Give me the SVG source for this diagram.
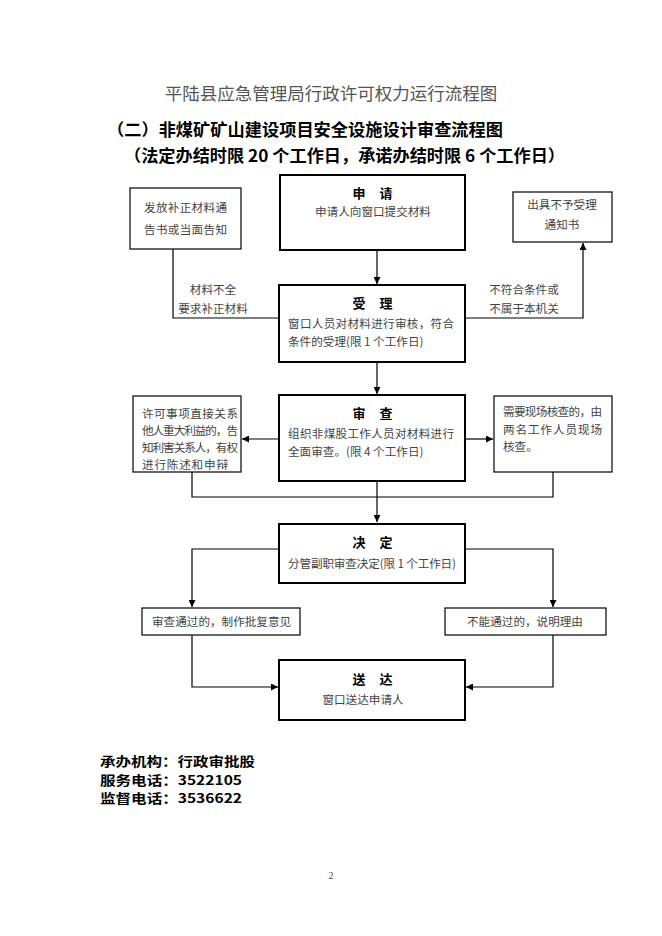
<svg xmlns="http://www.w3.org/2000/svg" width="662" height="936" viewBox="0 0 662 936">
<style>
text{font-family:"Noto Sans CJK SC","Liberation Serif",serif;}
.t1{font-size:17.5px;fill:#555;}
.t2{font-size:16.5px;font-weight:bold;fill:#000;}
.hd{font-size:13px;font-weight:bold;fill:#000;}
.bx{font-size:11.6px;fill:#444;}
.ft{font-size:12.7px;font-weight:bold;fill:#000;}
.pn{font-size:10px;fill:#444;font-family:"Liberation Serif",serif;}
.thick{fill:#fff;stroke:#000;stroke-width:2;}
.thin{fill:#fff;stroke:#000;stroke-width:1.2;}
.ln{fill:none;stroke:#000;stroke-width:1.2;}
</style>
<defs>
<marker id="ah" viewBox="0 0 10 10" refX="10" refY="5" markerWidth="7" markerHeight="7" markerUnits="userSpaceOnUse" orient="auto">
<path d="M0,0 L10,5 L0,10 z" fill="#000"/>
</marker>
</defs>
<rect width="662" height="936" fill="#fff"/>
<g id="titles">
<text class="t1" x="331" y="100" text-anchor="middle">平陆县应急管理局行政许可权力运行流程图</text>
<text class="t2" x="107" y="136" textLength="396" lengthAdjust="spacingAndGlyphs">（二）非煤矿矿山建设项目安全设施设计审查流程图</text>
<text class="t2" x="124" y="162" textLength="441" lengthAdjust="spacingAndGlyphs">（法定办结时限 20 个工作日，承诺办结时限 6 个工作日）</text>
</g>
<g id="connectors">
<line class="ln" x1="377" y1="251" x2="377" y2="284" marker-end="url(#ah)"/>
<polyline class="ln" points="279,318 173,318 173,249"/>
<polyline class="ln" points="465,318 583,318 583,243" marker-end="url(#ah)"/>
<line class="ln" x1="377" y1="362" x2="377" y2="394" marker-end="url(#ah)"/>
<line class="ln" x1="279" y1="439" x2="242" y2="439" marker-end="url(#ah)"/>
<line class="ln" x1="465" y1="439" x2="493" y2="439" marker-end="url(#ah)"/>
<polyline class="ln" points="192,472 192,497 553,497 553,472"/>
<line class="ln" x1="377" y1="481" x2="377" y2="522" marker-end="url(#ah)"/>
<polyline class="ln" points="279,549 192,549 192,607" marker-end="url(#ah)"/>
<polyline class="ln" points="465,549 553,549 553,607" marker-end="url(#ah)"/>
<polyline class="ln" points="192,635 192,687 278,687" marker-end="url(#ah)"/>
<polyline class="ln" points="553,635 553,687 466,687" marker-end="url(#ah)"/>
<text class="bx" x="213" y="294" text-anchor="middle">材料不全</text>
<text class="bx" x="213" y="313" text-anchor="middle">要求补正材料</text>
<text class="bx" x="524" y="294" text-anchor="middle">不符合条件或</text>
<text class="bx" x="524" y="313" text-anchor="middle">不属于本机关</text>
</g>
<g id="apply">
<rect class="thick" x="280" y="175" width="185" height="75"/>
<text class="hd" x="352.5 379.5" y="198">申请</text>
<text class="bx" x="373" y="216" text-anchor="middle">申请人向窗口提交材料</text>
</g>
<g id="supplement">
<rect class="thin" x="130" y="188" width="111" height="61"/>
<text class="bx" x="144" y="212" textLength="83">发放补正材料通</text>
<text class="bx" x="144" y="234" textLength="83">告书或当面告知</text>
</g>
<g id="reject">
<rect class="thin" x="513" y="192" width="99" height="50"/>
<text class="bx" x="562" y="209" text-anchor="middle">出具不予受理</text>
<text class="bx" x="562" y="229" text-anchor="middle">通知书</text>
</g>
<g id="accept">
<rect class="thick" x="279" y="285" width="186" height="77"/>
<text class="hd" x="352.5 379.5" y="308">受理</text>
<text class="bx" x="288" y="328" textLength="166">窗口人员对材料进行审核，符合</text>
<text class="bx" x="288" y="346">条件的受理(限 1 个工作日)</text>
</g>
<g id="review">
<rect class="thick" x="279" y="395" width="186" height="86"/>
<text class="hd" x="352.5 379.5" y="418">审查</text>
<text class="bx" x="288" y="438" textLength="166">组织非煤股工作人员对材料进行</text>
<text class="bx" x="288" y="456">全面审查。(限 4 个工作日)</text>
</g>
<g id="notify">
<rect class="thin" x="133" y="396" width="108" height="76"/>
<text class="bx" x="142" y="418" textLength="96">许可事项直接关系</text>
<text class="bx" x="142" y="435" textLength="96">他人重大利益的，告</text>
<text class="bx" x="142" y="452" textLength="96">知利害关系人，有权</text>
<text class="bx" x="142" y="469" textLength="86">进行陈述和申辩</text>
</g>
<g id="onsite">
<rect class="thin" x="494" y="396" width="118" height="76"/>
<text class="bx" x="503" y="416" textLength="99">需要现场核查的，由</text>
<text class="bx" x="503" y="434" textLength="99">两名工作人员现场</text>
<text class="bx" x="503" y="451">核查。</text>
</g>
<g id="decide">
<rect class="thick" x="279" y="524" width="186" height="59"/>
<text class="hd" x="352.5 379.5" y="547">决定</text>
<text class="bx" x="288" y="568" textLength="168">分管副职审查决定(限 1 个工作日)</text>
</g>
<g id="pass">
<rect class="thin" x="142" y="608" width="158" height="27"/>
<text class="bx" x="152" y="626">审查通过的，制作批复意见</text>
</g>
<g id="fail">
<rect class="thin" x="445" y="608" width="161" height="27"/>
<text class="bx" x="525" y="626" text-anchor="middle">不能通过的，说明理由</text>
</g>
<g id="deliver">
<rect class="thick" x="279" y="660" width="186" height="60"/>
<text class="hd" x="352.5 379.5" y="684">送达</text>
<text class="bx" x="363" y="704" text-anchor="middle">窗口送达申请人</text>
</g>
<g id="footer">
<text class="ft" x="100" y="766" textLength="155" lengthAdjust="spacingAndGlyphs">承办机构：行政审批股</text>
<text class="ft" x="100" y="784.5" textLength="142" lengthAdjust="spacingAndGlyphs">服务电话：3522105</text>
<text class="ft" x="100" y="803" textLength="142" lengthAdjust="spacingAndGlyphs">监督电话：3536622</text>
<text class="pn" x="331" y="879" text-anchor="middle">2</text>
</g>
</svg>
